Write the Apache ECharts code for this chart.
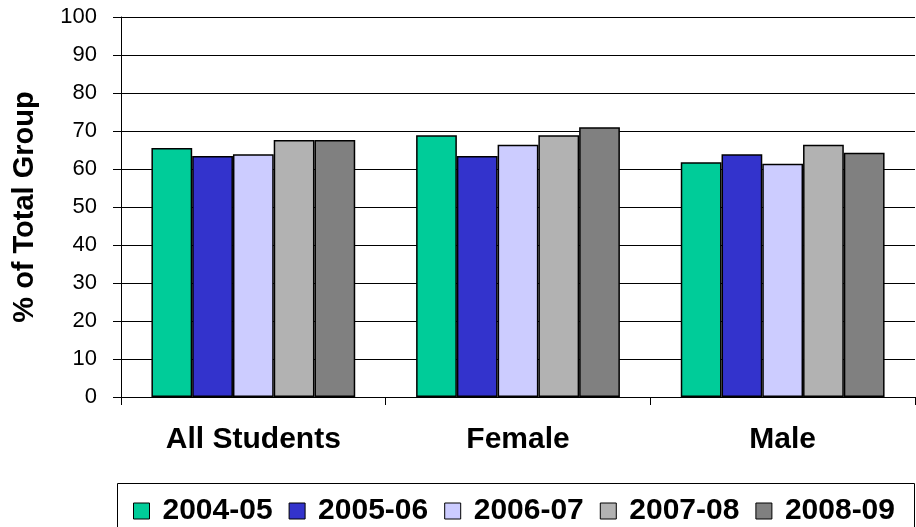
<!DOCTYPE html>
<html><head><meta charset="utf-8">
<script src="https://cdn.jsdelivr.net/npm/echarts@6/dist/echarts.min.js"></script>
<style>html,body{margin:0;padding:0;background:#fff}#c{width:916px;height:527px}</style>
</head><body><div id="c"></div>
<script>
const categories = ['All Students', 'Female', 'Male'];
const seriesNames = ['2004-05', '2005-06', '2006-07', '2007-08', '2008-09'];
const v200405 = [65.5, 68.9, 61.8];
const v200506 = [63.4, 63.4, 63.9];
const v200607 = [63.9, 66.4, 61.4];
const v200708 = [67.6, 68.9, 66.4];
const v200809 = [67.6, 71.0, 64.3];
const colors = ['#00CC99', '#3333CC', '#CCCCFF', '#B2B2B2', '#808080'];
const allValues = [v200405, v200506, v200607, v200708, v200809];
const FONT = 'Liberation Sans, Arial, sans-serif';

const chart = echarts.init(document.getElementById('c'));
chart.setOption({
  animation: false,
  color: colors,
  grid: {left: 121, right: 1, top: 17, bottom: 130},
  graphic: [{
    type: 'rect', shape: {x: 117.5, y: 483.5, width: 797, height: 45},
    style: {fill: 'none', stroke: '#000', lineWidth: 1}
  }],
  legend: {
    top: 491, left: 128, itemGap: 16, itemWidth: 16, itemHeight: 16,
    icon: 'rect',
    textStyle: {fontFamily: FONT, fontWeight: 'bold', fontSize: 30, color: '#000', padding: [0, 0, 0, 8]},
    itemStyle: {borderColor: '#000', borderWidth: 1},
    data: seriesNames
  },
  xAxis: {
    type: 'category', data: categories,
    axisLine: {lineStyle: {color: '#000', width: 1}},
    axisTick: {show: true, length: 8, lineStyle: {color: '#000'}},
    axisLabel: {fontFamily: FONT, fontWeight: 'bold', fontSize: 30, color: '#000', margin: 28}
  },
  yAxis: {
    type: 'value', min: 0, max: 100, interval: 10,
    name: '% of Total Group', nameLocation: 'middle', nameGap: 82,
    nameTextStyle: {fontFamily: FONT, fontWeight: 'bold', fontSize: 29, color: '#000'},
    axisLine: {show: true, lineStyle: {color: '#000', width: 1}},
    axisTick: {show: true, length: 8, lineStyle: {color: '#000'}},
    axisLabel: {fontFamily: FONT, fontSize: 22, color: '#000', margin: 24},
    splitLine: {lineStyle: {color: '#000', width: 1}}
  },
  series: seriesNames.map((n, i) => ({
    name: n, type: 'bar', data: allValues[i],
    barGap: '0%', barCategoryGap: '23%',
    itemStyle: {color: colors[i], borderColor: '#000', borderWidth: 1.5}
  }))
});
</script></body></html>
